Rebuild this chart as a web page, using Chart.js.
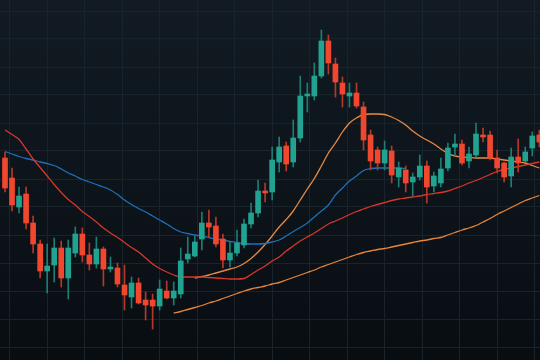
<!DOCTYPE html>
<html lang="en">
<head>
<meta charset="UTF-8">
<title>Candlestick chart</title>
<script src="https://cdn.jsdelivr.net/npm/chart.js"></script>
<style>
  html, body { margin:0; padding:0; background:#0b1117; }
  #wrap { width:540px; height:360px; }
</style>
</head>
<body>
<div id="wrap"><canvas id="myChart"></canvas></div>
<script>
    // candles (OHLC)
    const opens  = [202,182,153,166,137,116, 89, 95,112, 82,107,126,105, 96,111, 91, 92, 75, 63, 77, 60, 60, 54, 69, 62, 66,101,104,121,137,134,121,100,107,115,136,147,169,168,198,214,198,222,264,264,284,319,296,277,264,267,253,225,210,197,209,183,190,178,183,194,174,177,192,213,216,199,205,225,225,202,197,184,203,199,212,225];
    const highs  = [208,192,173,173,144,120,116,122,119,120,133,132,117,123,113,103, 97, 95, 83, 82, 68, 66, 80, 79, 78,112,123,124,148,150,143,126,118,130,141,157,180,177,213,223,218,240,284,277,297,330,325,302,283,277,277,258,230,213,219,214,198,194,187,205,199,188,202,217,226,220,213,237,232,229,210,198,212,221,213,228,230];
    const lows   = [168,149,147,131,107, 82, 67, 78, 73, 61,103, 98, 90, 92, 74, 88, 73, 50, 52, 56, 40, 31, 50, 61, 55, 62, 97,103,110,123,113, 92, 93,104,112,132,143,158,160,188,189,193,218,248,260,282,286,263,253,253,252,210,190,190,190,177,173,168,164,180,157,168,173,189,204,195,192,203,218,200,187,178,173,188,198,204,213];
    const closes = [172,155,164,137,116, 89, 94,112, 82,112,126,105, 96,111, 91, 93, 76, 65, 77, 57, 55, 54, 71, 62, 69, 99,106,118,137,133,116,100,107,117,136,147,169,167,200,213,196,222,264,266,284,319,297,278,266,267,254,220,199,197,210,185,192,177,183,194,173,184,191,212,216,197,206,226,223,202,192,183,203,197,208,224,218];

    // moving averages (null where the line is not drawn)
    const maBlue = [208.5,206,203.5,201.5,200,198,196.5,194.5,191,187,184,180.5,178,175.5,173,170,165.5,160,155.5,151.5,148,144,140,136,131.5,128,126.5,125,124,122.5,121,120,118.5,117.5,116.5,116,116,116.5,118,120,124,128.5,132.5,137,143,149,155,165,172,179,184,189.5,191.5,192,192,192,192,191.5];
    const maRed = [230,225.5,220.5,211,201,192.5,184,175.5,167.5,160.5,155,148.5,143.5,138,132,127,122.5,117.5,112.5,108,102,96,91.5,88,85,83,83,83,83,82.5,82,81.5,81,81,81.5,85.5,90,94,99,103,109,114,119,123,127,131.5,136,139,142,145.5,148.5,151,153.5,155.5,157.5,159.5,161,162,163,164,165.5,166.5,167.5,169,171.5,174,177,179.5,182.5,185.5,188.5,190.5,192,193.5,195,196.5,198];
    const maFast = [82,83.5,85,87,89,91,93,96.5,101.5,108,115.5,124,133,140.5,149,160,171,181.5,194,207,217,228,237,242,245.5,246,246,245.5,243,239.5,235,229,224,220,216,211,206.5,204,203,202.5,202,202,202,201,200,199,198,197,194.5,192];
    const maSlow = [47,48.5,50.5,52.5,54.5,57,59,61.5,64,66.5,69,71,72.5,74,76,77.5,80,82.5,85,87.5,90,93,95.5,98,100.5,103,105.5,107.5,109,110.5,111.5,113,114.5,116,117.5,119,120,121.5,122.5,125,127.5,130,132,134.5,138,141.5,145.5,149,152.5,156,159.5,162,164.5];
    const fastStart = 27;
    const slowStart = 24;

    const upColor = "#22a391", downColor = "#f2472f";
    const upWick = "#1b7e71", downWick = "#b5392a";

    const isUp = closes.map((c, i) => c >= opens[i]);
    const bodyData = opens.map((o, i) => ({x: i, y: [o, closes[i]]}));
    const wickData = lows.map((l, i) => ({x: i, y: [l, highs[i]]}));
    const toPts = (arr, start) => arr.map((v, i) => ({x: start + i, y: v}));

    // dark gradient background
    const bgPlugin = {
        id: "bg",
        beforeDraw(chart) {
            const c = chart.ctx;
            const g = c.createLinearGradient(0, 0, 0, chart.height);
            g.addColorStop(0, "#121b23");
            g.addColorStop(1, "#080d12");
            c.save();
            c.fillStyle = g;
            c.fillRect(0, 0, chart.width, chart.height);
            c.restore();
        }
    };

    const lineDs = (label, data, color) => ({
        type: "line",
        label: label,
        data: data,
        borderColor: color,
        borderWidth: 1.3,
        pointRadius: 0,
        cubicInterpolationMode: "monotone",
        fill: false,
        order: 3
    });

    const ctx = document.querySelector("#myChart");
    const candleChart = new Chart(ctx, {
        type: "bar",
        data: {
            datasets: [
                lineDs("MA slow", toPts(maSlow, slowStart), "#e8853a"),
                lineDs("MA mid", toPts(maRed, 0), "#d8362a"),
                lineDs("MA blue", toPts(maBlue, 0), "#1f6fb8"),
                lineDs("MA fast", toPts(maFast, fastStart), "#e98a42"),
            {
                label: "wick",
                data: wickData,
                backgroundColor: isUp.map(u => u ? upWick : downWick),
                barThickness: 1,
                grouped: false,
                order: 2
            },{
                label: "body",
                data: bodyData,
                backgroundColor: isUp.map(u => u ? upColor : downColor),
                barThickness: 5,
                minBarLength: 1,
                grouped: false,
                order: 1
            }]
        },
        options: {
            responsive: true,
            maintainAspectRatio: false,
            animation: false,
            layout: { padding: 0 },
            plugins: { legend: { display: false }, tooltip: { enabled: false } },
            scales: {
                x: {
                    type: "linear",
                    offset: false,
                    min: -0.71,
                    max: 76.1,
                    ticks: { display: false },
                    border: { display: false },
                    grid: { color: "#19232c", drawTicks: false, offset: false },
                    afterBuildTicks(scale) {
                        const t = [];
                        for (let v = 0.7; v < 77; v += 5.33) t.push({value: v});
                        scale.ticks = t;
                    }
                },
                y: {
                    min: 0,
                    max: 360,
                    ticks: { display: false },
                    border: { display: false },
                    grid: { color: "#19232c", drawTicks: false },
                    afterBuildTicks(scale) {
                        const t = [];
                        for (let v = 13; v <= 360; v += 28) t.push({value: v});
                        scale.ticks = t;
                    }
                }
            }
        },
        plugins: [bgPlugin]
    });
</script>
</body>
</html>
